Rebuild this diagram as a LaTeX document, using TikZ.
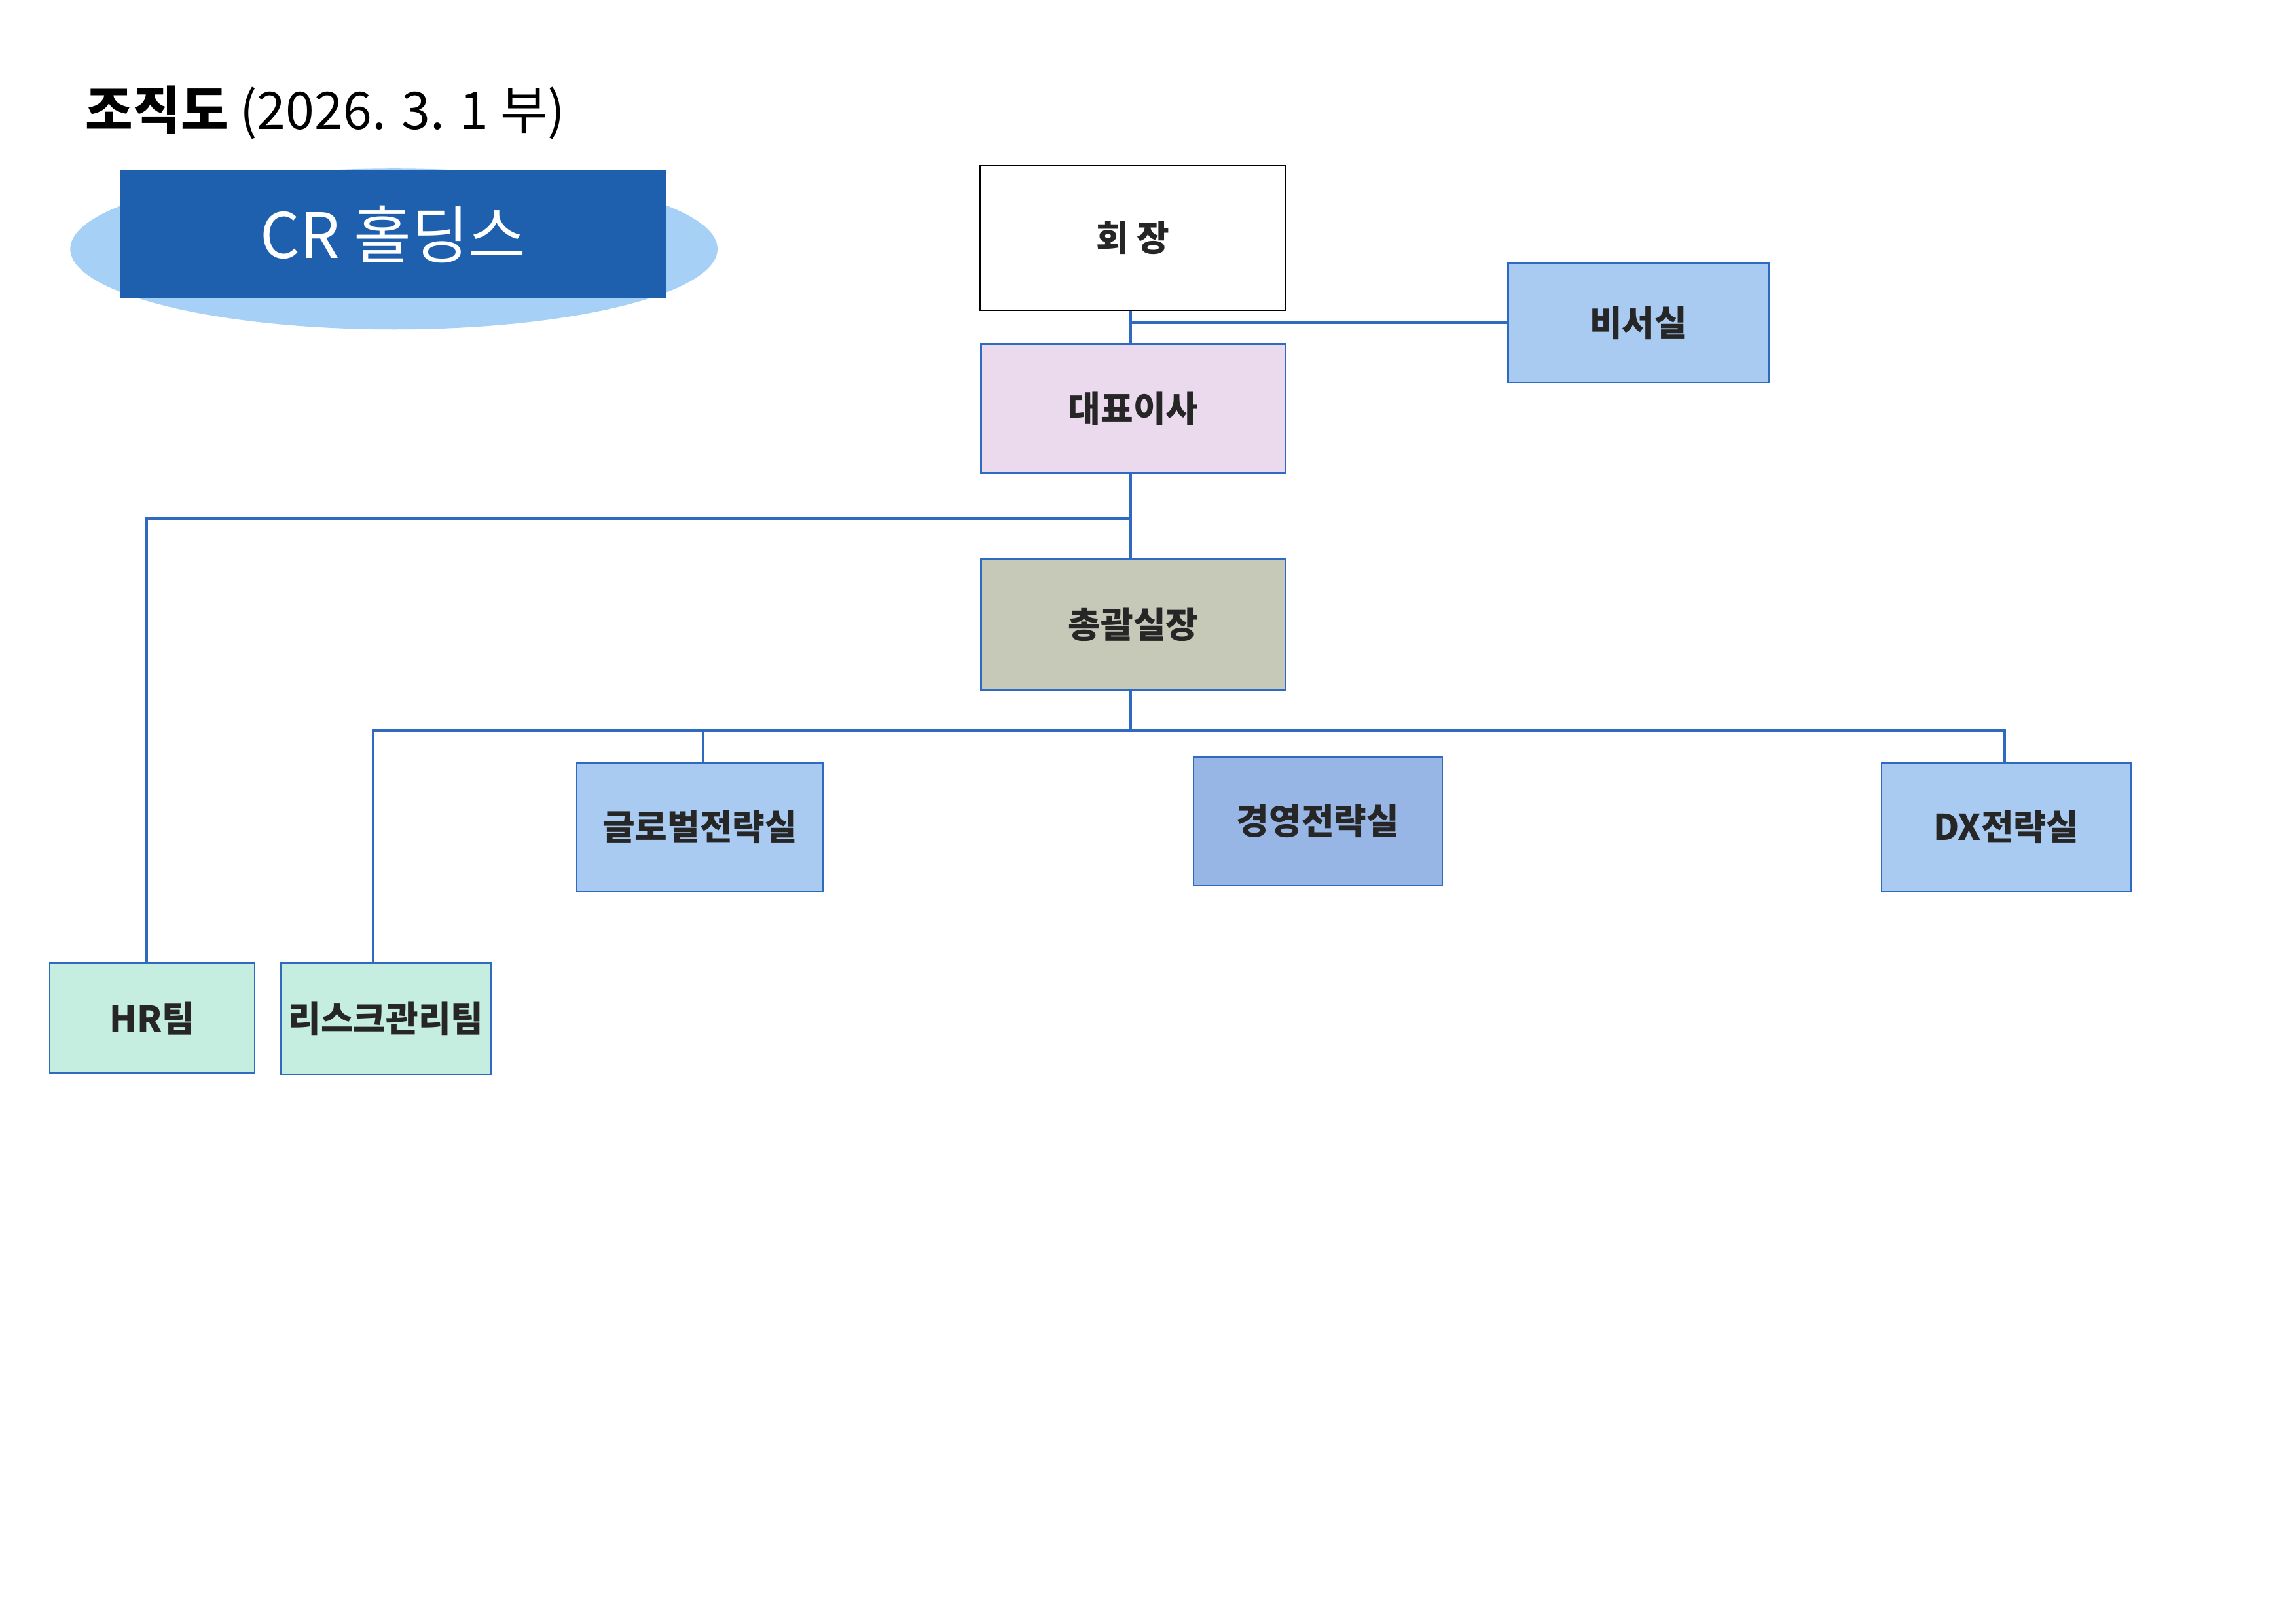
\documentclass[tikz,border=0pt]{standalone}
\usepackage{fontspec}
\setmainfont{Noto Sans CJK KR}
\usetikzlibrary{positioning,shapes.geometric}
\definecolor{linkblue}{HTML}{2E6BC0}
\definecolor{pinkbox}{HTML}{EBD9EE}
\definecolor{graybox}{HTML}{C6C8B8}
\definecolor{skybox}{HTML}{A9CBF2}
\definecolor{deepbox}{HTML}{98B6E5}
\definecolor{mintbox}{HTML}{C6EEE0}
\definecolor{bannerdark}{HTML}{1E60AE}
\definecolor{bannerlight}{HTML}{A6D0F5}
\tikzset{
  unit/.style={draw=linkblue, line width=0.6pt, inner sep=0pt,
    font=\fontsize{13}{15}\selectfont\bfseries, text=black!85},
  link/.style={draw=linkblue, line width=0.9pt},
}
\begin{document}
\begin{tikzpicture}[x=0.01894cm, y=-0.01894cm]
  \useasboundingbox (0,0) rectangle (1568,1109);
  % title and banner
  \node[anchor=west, font=\fontsize{19}{22}\selectfont] (title) at (52,77)
    {\textbf{조직도} (2026. 3. 1 부)};
  \node[ellipse, fill=bannerlight, minimum width=442*0.01894cm,
    minimum height=110*0.01894cm] (oval) at (269,170) {};
  \node[fill=bannerdark, minimum width=373*0.01894cm, minimum height=88*0.01894cm,
    text=white, font=\fontsize{23}{26}\selectfont] (banner) at (268.5,160) {CR 홀딩스};
  % units
  \node[unit, draw=black, fill=white, minimum width=209*0.01894cm,
    minimum height=99*0.01894cm] (chair) at (773.5,162.5) {회 장};
  \node[unit, fill=skybox, minimum width=178*0.01894cm,
    minimum height=81*0.01894cm] (secr) at (1119,220.5) {비서실};
  \node[unit, fill=pinkbox, minimum width=208*0.01894cm,
    minimum height=88*0.01894cm] (ceo) at (774,279) {대표이사};
  \node[unit, fill=graybox, minimum width=208*0.01894cm,
    minimum height=89*0.01894cm] (chief) at (774,426.5) {총괄실장};
  \node[unit, fill=skybox, minimum width=168*0.01894cm,
    minimum height=88*0.01894cm] (global) at (478,565) {글로벌전략실};
  \node[unit, fill=deepbox, minimum width=170*0.01894cm,
    minimum height=88*0.01894cm] (mgmt) at (900,561) {경영전략실};
  \node[unit, fill=skybox, minimum width=170*0.01894cm,
    minimum height=88*0.01894cm] (dx) at (1370,565) {DX전략실};
  \node[unit, fill=mintbox, minimum width=140*0.01894cm,
    minimum height=75*0.01894cm] (hr) at (104,695.5) {HR팀};
  \node[unit, fill=mintbox, minimum width=143*0.01894cm,
    minimum height=76*0.01894cm] (risk) at (263.5,696) {리스크관리팀};
  % connectors
  \coordinate (split) at (772,354);
  \coordinate (bus) at (772,499);
  \draw[link] (chair.south -| split) -- (ceo.north -| split);
  \draw[link] (split |- secr.west) -- (secr.west);
  \draw[link] (ceo.south -| split) -- (chief.north -| split);
  \draw[link] (split) -| (hr.north -| 100,0);
  \draw[link] (chief.south -| bus) -- (bus);
  \draw[link] (risk.north -| 255,0) |- (bus) -| (dx.north -| 1369,0);
  \draw[link] (global.north -| 480,0) -- (bus -| 480,0);
\end{tikzpicture}
\end{document}
